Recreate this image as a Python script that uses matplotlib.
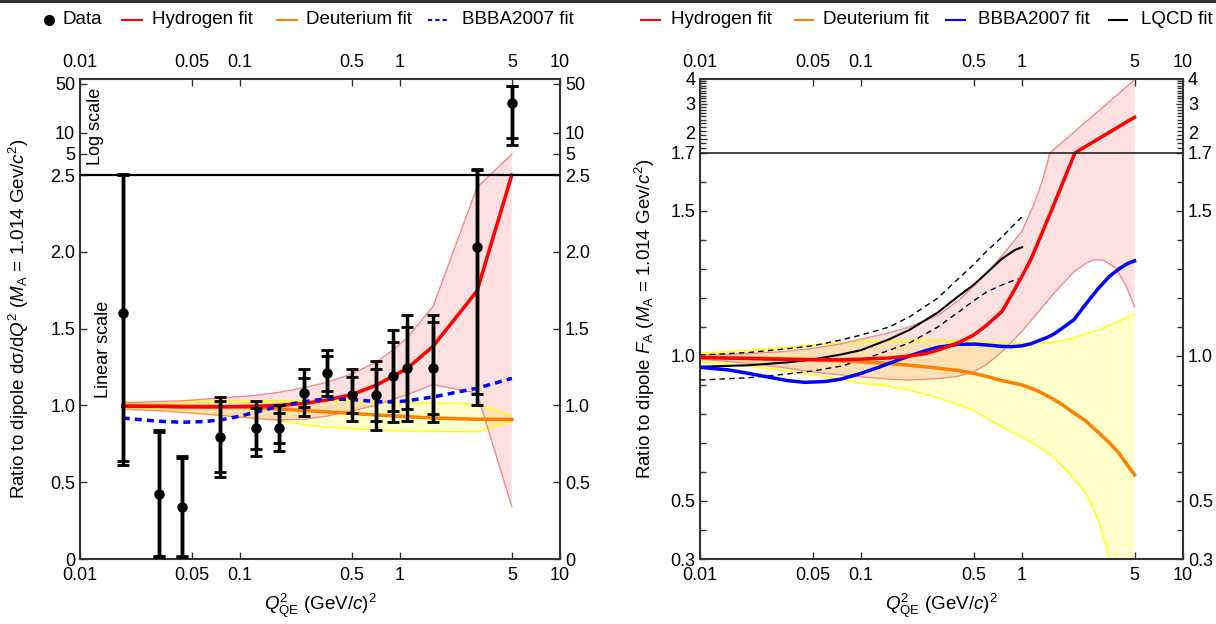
import numpy as np
import matplotlib
matplotlib.use("Agg")
import matplotlib.pyplot as plt
from matplotlib.lines import Line2D
from matplotlib.ticker import FixedLocator, FixedFormatter, NullLocator

plt.rcParams['font.family'] = ['Liberation Sans', 'DejaVu Sans']
plt.rcParams['mathtext.fontset'] = 'custom'
plt.rcParams['mathtext.rm'] = 'Liberation Sans'
plt.rcParams['mathtext.it'] = 'Liberation Sans:italic'
plt.rcParams['font.size'] = 13

# ---------------- Left panel data ----------------
data_x = [0.0185, 0.031, 0.0434, 0.075, 0.125, 0.1745, 0.25, 0.348, 0.5, 0.705, 0.904, 1.107, 1.61, 3.03, 5.0]
data_y = [1.603, 0.421, 0.337, 0.792, 0.851, 0.851, 1.083, 1.209, 1.066, 1.066, 1.191, 1.243, 1.243, 2.033, 27.0]
stat_lo = [0.64, 0.02, 0.02, 0.568, 0.714, 0.753, 0.992, 1.094, 0.953, 0.90, 0.961, 0.974, 0.944, 1.074, 8.5]
stat_hi = [2.50, 0.825, 0.656, 1.03, 0.985, 0.953, 1.178, 1.322, 1.183, 1.235, 1.415, 1.51, 1.541, 2.98, 46.0]
tot_lo = [0.615, 0.01, 0.01, 0.534, 0.671, 0.703, 0.933, 1.061, 0.896, 0.842, 0.89, 0.896, 0.892, 1.003, 6.6]
tot_hi = [2.55, 0.84, 0.669, 1.055, 1.029, 1.003, 1.239, 1.361, 1.239, 1.291, 1.489, 1.59, 1.59, 3.02, 47.2]

fitL_x = [0.0185, 0.031, 0.0434, 0.075, 0.125, 0.1745, 0.25, 0.348, 0.5, 0.705, 0.904, 1.107, 1.61, 3.03, 5.0]
hydL = [0.995, 0.993, 0.99, 0.99, 0.995, 1.0, 1.012, 1.035, 1.07, 1.13, 1.19, 1.24, 1.385, 1.745, 2.5]
hydL_up = [1.018, 1.025, 1.03, 1.048, 1.065, 1.085, 1.115, 1.15, 1.205, 1.28, 1.36, 1.44, 1.645, 2.42, 4.95]
hydL_lo = [0.975, 0.965, 0.955, 0.935, 0.915, 0.905, 0.91, 0.93, 0.965, 1.0, 1.04, 1.07, 1.135, 1.08, 0.34]
deuL = [1.0, 0.998, 0.996, 0.993, 0.985, 0.978, 0.967, 0.958, 0.948, 0.938, 0.932, 0.927, 0.918, 0.91, 0.908]
deuL_up = [1.02, 1.022, 1.023, 1.025, 1.028, 1.03, 1.03, 1.028, 1.025, 1.022, 1.02, 1.02, 1.015, 1.01, 0.935]
deuL_lo = [0.98, 0.97, 0.96, 0.94, 0.92, 0.90, 0.875, 0.858, 0.848, 0.84, 0.835, 0.832, 0.83, 0.828, 0.895]

bbbaL_x = [0.0185, 0.025, 0.031, 0.0434, 0.06, 0.075, 0.1, 0.125, 0.1745, 0.25, 0.348, 0.5, 0.705, 0.904, 1.107, 1.61, 3.03, 5.0]
bbbaL = [0.918, 0.905, 0.897, 0.89, 0.895, 0.905, 0.93, 0.955, 0.995, 1.024, 1.043, 1.038, 1.025, 1.022, 1.03, 1.055, 1.112, 1.176]

# ---------------- Right panel data ----------------
hydR_x = [0.01, 0.02, 0.035, 0.05, 0.075, 0.1, 0.15, 0.2, 0.25, 0.3, 0.4, 0.5, 0.6, 0.75, 0.85, 1.0, 1.15, 1.3, 1.6, 2.13, 5.0]
hydR = [0.995, 0.991, 0.988, 0.987, 0.987, 0.989, 0.993, 1.0, 1.008, 1.02, 1.045, 1.072, 1.105, 1.153, 1.205, 1.275, 1.34, 1.41, 1.53, 1.70, 2.57]
hydR_up_x = [0.01, 0.02, 0.035, 0.05, 0.075, 0.1, 0.15, 0.2, 0.3, 0.4, 0.5, 0.6, 0.75, 1.0, 1.2, 1.35, 1.49, 5.0]
hydR_up = [1.003, 1.008, 1.016, 1.026, 1.042, 1.058, 1.08, 1.10, 1.14, 1.19, 1.24, 1.285, 1.345, 1.43, 1.53, 1.61, 1.70, 3.96]
hydR_lo_x = [0.01, 0.02, 0.035, 0.05, 0.075, 0.1, 0.15, 0.2, 0.3, 0.4, 0.5, 0.6, 0.75, 1.0, 1.3, 1.6, 2.1, 2.5, 2.8, 3.2, 3.8, 4.4, 5.0]
hydR_lo = [0.989, 0.975, 0.958, 0.945, 0.935, 0.928, 0.92, 0.917, 0.922, 0.93, 0.945, 0.97, 1.015, 1.085, 1.16, 1.22, 1.29, 1.32, 1.332, 1.33, 1.305, 1.245, 1.17]

deuR_x = [0.01, 0.02, 0.05, 0.1, 0.15, 0.2, 0.3, 0.4, 0.5, 0.6, 0.75, 1.0, 1.25, 1.5, 1.75, 2.0, 2.5, 3.0, 3.5, 4.0, 4.5, 5.0]
deuR = [0.995, 0.993, 0.988, 0.98, 0.974, 0.968, 0.958, 0.95, 0.94, 0.93, 0.915, 0.9, 0.88, 0.857, 0.835, 0.812, 0.775, 0.735, 0.70, 0.665, 0.625, 0.59]
deuR_up_x = [0.01, 0.02, 0.035, 0.05, 0.075, 0.1, 0.2, 0.3, 0.5, 0.75, 1.0, 1.5, 2.0, 3.0, 4.0, 5.0]
deuR_up = [1.009, 1.02, 1.03, 1.038, 1.045, 1.05, 1.055, 1.055, 1.05, 1.045, 1.044, 1.046, 1.06, 1.09, 1.12, 1.145]
deuR_lo_x = [0.01, 0.02, 0.035, 0.05, 0.075, 0.1, 0.15, 0.2, 0.3, 0.4, 0.5, 0.75, 1.0, 1.25, 1.5, 2.0, 2.5, 3.0, 3.5, 4.0, 5.0]
deuR_lo = [0.98, 0.965, 0.948, 0.935, 0.92, 0.906, 0.895, 0.882, 0.856, 0.833, 0.812, 0.755, 0.72, 0.69, 0.662, 0.59, 0.525, 0.43, 0.30, 0.15, 0.0]

bbbaR_x = [0.01, 0.015, 0.02, 0.025, 0.035, 0.045, 0.06, 0.075, 0.1, 0.13, 0.15, 0.2, 0.25, 0.3, 0.4, 0.5, 0.6, 0.75, 0.85, 1.0, 1.15, 1.3, 1.45, 1.6, 1.8, 2.1, 2.5, 3.0, 3.5, 4.0, 4.5, 5.0]
bbbaR = [0.961, 0.952, 0.94, 0.93, 0.915, 0.909, 0.912, 0.92, 0.94, 0.962, 0.975, 1.0, 1.018, 1.03, 1.04, 1.041, 1.038, 1.033, 1.032, 1.035, 1.043, 1.055, 1.065, 1.078, 1.098, 1.125, 1.18, 1.235, 1.275, 1.30, 1.318, 1.328]

lqcd_x = [0.01, 0.02, 0.035, 0.05, 0.075, 0.1, 0.15, 0.2, 0.3, 0.4, 0.5, 0.6, 0.75, 0.9, 1.0]
lqcd = [0.963, 0.968, 0.978, 0.988, 1.005, 1.02, 1.058, 1.09, 1.15, 1.205, 1.245, 1.285, 1.335, 1.365, 1.375]
lqcd_up = [1.003, 1.012, 1.025, 1.035, 1.055, 1.072, 1.10, 1.135, 1.20, 1.265, 1.315, 1.36, 1.41, 1.455, 1.48]
lqcd_lo = [0.917, 0.925, 0.938, 0.948, 0.965, 0.985, 1.02, 1.045, 1.10, 1.15, 1.19, 1.22, 1.245, 1.262, 1.268]

x_ticks = [0.01, 0.05, 0.1, 0.5, 1, 5, 10]
x_labels = ['0.01', '0.05', '0.1', '0.5', '1', '5', '10']
yL_ticks = [0, 0.5, 1.0, 1.5, 2.0, 2.5, 5, 10, 50]
yL_labels = ['0', '0.5', '1.0', '1.5', '2.0', '2.5', '5', '10', '50']
yR_ticks = [0.3, 0.5, 1.0, 1.5, 1.7, 2, 3, 4]
yR_labels = ['0.3', '0.5', '1.0', '1.5', '1.7', '2', '3', '4']

legL_labels = ['Data', 'Hydrogen fit', 'Deuterium fit', 'BBBA2007 fit']
legR_labels = ['Hydrogen fit', 'Deuterium fit', 'BBBA2007 fit', 'LQCD fit']

# ---------------- scales ----------------
BL, KL = 2.5, 70 / 153.6
BR, KR = 1.7, 199 / 290.0


def make_scale(b, k):
    def fwd(y):
        y = np.asarray(y, dtype=float)
        return np.where(y <= b, y, b + k * np.log10(np.maximum(y, 1e-12) / b))

    def inv(t):
        t = np.asarray(t, dtype=float)
        return np.where(t <= b, t, b * 10 ** ((t - b) / k))
    return fwd, inv


W, H = 1216, 624
fig = plt.figure(figsize=(W / 100, H / 100), dpi=100)
axL = fig.add_axes([80 / W, 65 / H, 480 / W, 480 / H])
axR = fig.add_axes([700 / W, 65 / H, 483 / W, 480 / H])

pink_fill = (1.0, 0.0, 0.0, 0.12)
pink_edge = '#f48a8a'
yel_fill = (1.0, 1.0, 0.0, 0.2)
yel_edge = '#ffff00'
orange = '#ff7f00'

for ax, (b, k) in ((axL, (BL, KL)), (axR, (BR, KR))):
    ax.set_xscale('log')
    ax.set_yscale('function', functions=make_scale(b, k))
    ax.set_xlim(0.01, 10)
    ax.xaxis.set_major_locator(FixedLocator(x_ticks))
    ax.xaxis.set_major_formatter(FixedFormatter(x_labels))
    ax.xaxis.set_minor_locator(NullLocator())
    ax.tick_params(axis='both', which='both', direction='in', top=True, right=True,
                   labeltop=True, labelright=True, labelsize=13, width=1, color='#333333')
    ax.tick_params(axis='x', which='both', pad=6)
    ax.tick_params(axis='y', which='both', pad=3.5)
    ax.tick_params(which='major', length=5)
    ax.tick_params(which='minor', length=4)
    for s in ax.spines.values():
        s.set_linewidth(1.5)
        s.set_color('#333333')

# ---- left panel ----
axL.set_ylim(0, 58.8)
axL.yaxis.set_major_locator(FixedLocator(yL_ticks))
axL.yaxis.set_major_formatter(FixedFormatter(yL_labels))
axL.yaxis.set_minor_locator(NullLocator())

xs = np.array(fitL_x)
axL.fill(np.concatenate([xs, xs[::-1]]), np.concatenate([deuL_up, deuL_lo[::-1]]),
         color=yel_fill, lw=0, zorder=1)
axL.plot(xs, deuL_up, color=yel_edge, lw=1, zorder=2)
axL.plot(xs, deuL_lo, color=yel_edge, lw=1, zorder=2)
axL.fill(np.concatenate([xs, xs[::-1]]), np.concatenate([hydL_up, hydL_lo[::-1]]),
         color=pink_fill, lw=0, zorder=1)
axL.plot(xs, hydL_up, color=pink_edge, lw=1, zorder=2)
axL.plot(xs, hydL_lo, color=pink_edge, lw=1, zorder=2)
axL.plot(xs, deuL, color=orange, lw=2.5, zorder=3)
axL.plot(xs, hydL, color='#ff0000', lw=2.5, zorder=4)
axL.plot(bbbaL_x, bbbaL, color='#0000ff', lw=2.5, ls=(0, (2, 1.5)), zorder=4)
axL.axhline(BL, color='black', lw=1.6, zorder=5)

dy = np.array(data_y)
axL.errorbar(data_x, dy, yerr=[dy - np.array(tot_lo), np.array(tot_hi) - dy], fmt='none',
             ecolor='black', elinewidth=2.5, capsize=4.5, capthick=2, zorder=6)
axL.errorbar(data_x, dy, yerr=[dy - np.array(stat_lo), np.array(stat_hi) - dy], fmt='o',
             color='black', ms=6.5, elinewidth=2.5, capsize=4.5, capthick=2, zorder=7)

fig.text(19 / W, 1 - 319 / H, r'Ratio to dipole dσ/d$Q^2$ ($M_\mathrm{A}$ = 1.014 Gev/$c^2$)',
         rotation=90, ha='center', va='center', fontsize=13.5)
fig.text(320 / W, 1 - 606 / H, r'$Q^2_\mathrm{QE}$ (GeV/$c$)$^2$', ha='center', va='center', fontsize=13.5)
fig.text(95 / W, 1 - 126 / H, 'Log scale', rotation=90, ha='center', va='center', fontsize=13)
fig.text(103 / W, 1 - 349 / H, 'Linear scale', rotation=90, ha='center', va='center', fontsize=13)

# ---- right panel ----
axR.set_ylim(0.3, 4.0)
axR.yaxis.set_major_locator(FixedLocator(yR_ticks))
axR.yaxis.set_major_formatter(FixedFormatter(yR_labels))
minor_lin = [0.4, 0.6, 0.7, 0.8, 0.9, 1.1, 1.2, 1.3, 1.4, 1.6]
minor_log = [round(1.8 + 0.1 * i, 1) for i in range(23)]
axR.yaxis.set_minor_locator(FixedLocator(minor_lin + minor_log))

axR.fill(np.concatenate([deuR_up_x, deuR_lo_x[::-1]]), np.concatenate([deuR_up, deuR_lo[::-1]]),
         color=yel_fill, lw=0, zorder=1)
axR.plot(deuR_up_x, deuR_up, color=yel_edge, lw=1, zorder=2)
axR.plot(deuR_lo_x, deuR_lo, color=yel_edge, lw=1, zorder=2)
axR.fill(np.concatenate([hydR_up_x, hydR_lo_x[::-1]]), np.concatenate([hydR_up, hydR_lo[::-1]]),
         color=pink_fill, lw=0, zorder=1)
axR.plot(hydR_up_x, hydR_up, color=pink_edge, lw=1, zorder=2)
axR.plot(hydR_lo_x, hydR_lo, color=pink_edge, lw=1, zorder=2)
axR.plot(lqcd_x, lqcd_up, color='black', lw=1, ls=(0, (4, 3)), zorder=3)
axR.plot(lqcd_x, lqcd_lo, color='black', lw=1, ls=(0, (4, 3)), zorder=3)
axR.plot(lqcd_x, lqcd, color='black', lw=1.5, zorder=3)
axR.plot(deuR_x, deuR, color=orange, lw=2.5, zorder=3)
axR.plot(bbbaR_x, bbbaR, color='#0000ff', lw=2.5, zorder=4)
axR.plot(hydR_x, hydR, color='#ff0000', lw=2.5, zorder=4)
axR.axhline(BR, color='#222222', lw=1.2, zorder=5)

fig.text(645 / W, 1 - 319 / H, r'Ratio to dipole $F_\mathrm{A}$ ($M_\mathrm{A}$ = 1.014 Gev/$c^2$)',
         rotation=90, ha='center', va='center', fontsize=13.5)
fig.text(941 / W, 1 - 606 / H, r'$Q^2_\mathrm{QE}$ (GeV/$c$)$^2$', ha='center', va='center', fontsize=13.5)

# ---- legends (placed by hand, in figure pixels) ----
LEG_Y = 1 - 20 / H


def leg_line(x0, x1, **kw):
    fig.add_artist(Line2D([x0 / W, x1 / W], [LEG_Y, LEG_Y], transform=fig.transFigure, **kw))


def leg_text(x, s):
    fig.text(x / W, LEG_Y, s, ha='left', va='center', fontsize=13.5)


fig.add_artist(Line2D([49 / W], [LEG_Y], transform=fig.transFigure, marker='o', color='black',
                      ms=7, ls='none'))
leg_text(62, legL_labels[0])
leg_line(122, 142, color='#ff0000', lw=1.5)
leg_text(152, legL_labels[1])
leg_line(277, 297, color=orange, lw=1.5)
leg_text(306, legL_labels[2])
leg_line(428, 448, color='#0000ff', lw=1.5, ls=(0, (2, 1.5)))
leg_text(462, legL_labels[3])

leg_line(641, 660, color='#ff0000', lw=1.5)
leg_text(671, legR_labels[0])
leg_line(795, 813, color=orange, lw=1.5)
leg_text(823, legR_labels[1])
leg_line(946, 965, color='#0000ff', lw=1.5)
leg_text(978, legR_labels[2])
leg_line(1109, 1127, color='black', lw=1.5)
leg_text(1141, legR_labels[3])

fig.add_artist(Line2D([0, 1], [0.999, 0.999], transform=fig.transFigure, color='#222222', lw=2))

# lift the "2" labels of the right panel slightly off the "1.7" labels
fig.canvas.draw()
for tick in axR.yaxis.get_major_ticks():
    if tick.label1.get_text() == '2':
        tick.label1.set_va('baseline')
        tick.label2.set_va('baseline')

fig.savefig('out.png', dpi=100)
